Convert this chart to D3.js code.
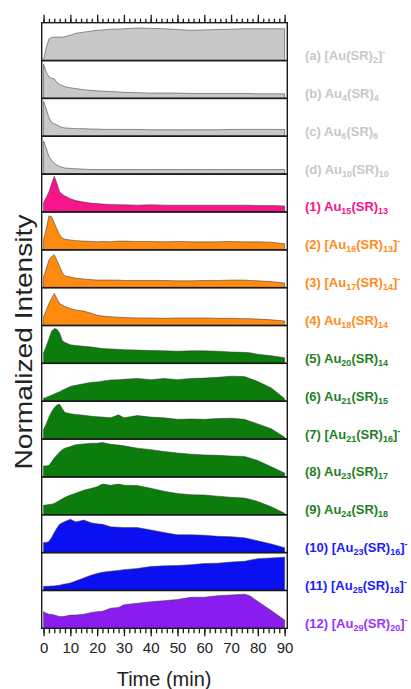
<!DOCTYPE html>
<html><head><meta charset="utf-8">
<script src="https://cdn.jsdelivr.net/npm/d3@7"></script>
<style>body{margin:0;background:#fff}svg{display:block}</style>
</head><body>
<svg id="chart" width="411" height="689"></svg>
<script>
// ---- data ----
const times = [0,1,2,3,4,5,6,7,8,10,12,15,18,20,22,25,28,30,35,40,45,50,55,60,65,70,75,77,80,85,90];
const valA  = [0.02,0.35,0.57,0.61,0.62,0.62,0.62,0.62,0.63,0.67,0.72,0.75,0.78,0.80,0.81,0.83,0.83,0.84,0.86,0.85,0.84,0.82,0.80,0.81,0.82,0.83,0.84,0.84,0.84,0.84,0.84];
const valB  = [0.90,0.70,0.57,0.53,0.52,0.42,0.37,0.34,0.31,0.28,0.26,0.23,0.21,0.20,0.19,0.18,0.17,0.16,0.15,0.14,0.14,0.14,0.13,0.13,0.13,0.13,0.13,0.13,0.12,0.12,0.12];
const valC  = [0.92,0.72,0.50,0.36,0.33,0.30,0.26,0.23,0.22,0.21,0.20,0.20,0.19,0.19,0.18,0.18,0.18,0.18,0.18,0.17,0.17,0.17,0.17,0.17,0.17,0.18,0.18,0.18,0.18,0.18,0.18];
const valD  = [0.88,0.68,0.47,0.36,0.29,0.24,0.20,0.18,0.16,0.15,0.14,0.13,0.12,0.12,0.12,0.12,0.12,0.12,0.12,0.12,0.12,0.12,0.12,0.12,0.12,0.12,0.12,0.12,0.12,0.12,0.12];
const val1  = [0.25,0.38,0.53,0.75,0.94,0.75,0.53,0.47,0.42,0.35,0.30,0.26,0.23,0.22,0.21,0.20,0.19,0.19,0.18,0.19,0.18,0.18,0.18,0.18,0.18,0.18,0.18,0.18,0.17,0.17,0.16];
const val2  = [0.27,0.55,0.90,0.87,0.71,0.55,0.40,0.31,0.28,0.26,0.24,0.23,0.22,0.21,0.22,0.21,0.23,0.23,0.22,0.22,0.21,0.22,0.21,0.21,0.21,0.22,0.21,0.21,0.21,0.20,0.16];
const val3  = [0.29,0.50,0.73,0.82,0.87,0.72,0.56,0.40,0.31,0.28,0.25,0.23,0.21,0.20,0.20,0.20,0.20,0.19,0.19,0.19,0.19,0.18,0.18,0.19,0.19,0.20,0.20,0.19,0.18,0.16,0.12];
const val4  = [0.23,0.40,0.58,0.72,0.85,0.70,0.58,0.54,0.50,0.45,0.41,0.38,0.32,0.27,0.25,0.23,0.22,0.21,0.20,0.20,0.19,0.20,0.20,0.20,0.19,0.19,0.18,0.18,0.17,0.15,0.12];
const val5  = [0.28,0.45,0.65,0.85,0.92,0.90,0.80,0.60,0.55,0.49,0.47,0.45,0.43,0.41,0.39,0.38,0.37,0.36,0.35,0.34,0.33,0.32,0.33,0.33,0.32,0.30,0.29,0.28,0.24,0.20,0.15];
const val6  = [0.08,0.10,0.13,0.16,0.19,0.22,0.25,0.29,0.32,0.39,0.42,0.46,0.50,0.51,0.53,0.56,0.57,0.58,0.60,0.57,0.60,0.57,0.60,0.61,0.63,0.66,0.65,0.60,0.52,0.35,0.07];
const val7  = [0.25,0.40,0.58,0.72,0.83,0.90,0.92,0.80,0.70,0.67,0.65,0.63,0.60,0.59,0.58,0.56,0.64,0.56,0.62,0.58,0.56,0.52,0.53,0.52,0.54,0.55,0.52,0.47,0.40,0.27,0.05];
const val8  = [0.29,0.29,0.30,0.40,0.50,0.58,0.66,0.72,0.76,0.80,0.85,0.87,0.89,0.89,0.91,0.86,0.84,0.82,0.76,0.72,0.67,0.63,0.60,0.58,0.57,0.55,0.54,0.50,0.43,0.27,0.10];
const val9  = [0.25,0.26,0.27,0.28,0.30,0.34,0.38,0.42,0.46,0.52,0.57,0.65,0.70,0.74,0.81,0.78,0.81,0.78,0.77,0.70,0.62,0.56,0.53,0.52,0.49,0.46,0.44,0.41,0.35,0.21,0.04];
const val10 = [0.27,0.27,0.29,0.40,0.53,0.65,0.75,0.79,0.82,0.88,0.81,0.86,0.78,0.76,0.75,0.68,0.67,0.66,0.66,0.60,0.53,0.47,0.47,0.46,0.43,0.42,0.39,0.36,0.31,0.23,0.13];
const val11 = [0.11,0.11,0.11,0.12,0.12,0.13,0.14,0.16,0.17,0.20,0.25,0.33,0.41,0.45,0.48,0.51,0.53,0.55,0.58,0.63,0.65,0.66,0.68,0.71,0.72,0.75,0.77,0.80,0.84,0.86,0.88];
const val12 = [0.44,0.40,0.37,0.37,0.35,0.33,0.31,0.31,0.32,0.35,0.35,0.37,0.42,0.44,0.45,0.53,0.55,0.62,0.66,0.70,0.73,0.76,0.82,0.82,0.86,0.88,0.90,0.86,0.71,0.47,0.22];

const seriesValues = [valA,valB,valC,valD,val1,val2,val3,val4,val5,val6,val7,val8,val9,val10,val11,val12];
const seriesLabels = [
  "(a) [Au(SR)_{2}]^{-}", "(b) Au_{4}(SR)_{4}", "(c) Au_{6}(SR)_{6}", "(d) Au_{10}(SR)_{10}",
  "(1) Au_{15}(SR)_{13}", "(2) [Au_{16}(SR)_{13}]^{-}", "(3) [Au_{17}(SR)_{14}]^{-}", "(4) Au_{18}(SR)_{14}",
  "(5) Au_{20}(SR)_{14}", "(6) Au_{21}(SR)_{15}", "(7) [Au_{21}(SR)_{16}]^{-}", "(8) Au_{23}(SR)_{17}",
  "(9) Au_{24}(SR)_{18}", "(10) [Au_{23}(SR)_{16}]^{-}", "(11) [Au_{25}(SR)_{18}]^{-}", "(12) [Au_{29}(SR)_{20}]^{-}"
];
const seriesGroups = ["gray","gray","gray","gray","pink","orange","orange","orange","green","green","green","green","green","blue","blue","purple"];
const xMajorTicks = [0,10,20,30,40,50,60,70,80,90];
const xMinorTicks = d3.range(0, 91, 2);

// ---- styles ----
const fillColor  = {gray:"#c8c8c8", pink:"#f7148b", orange:"#ff8a10", green:"#0c7c0c", blue:"#0b10f0", purple:"#8b1cf0"};
const labelColor = {gray:"#c8c8c8", pink:"#f7148b", orange:"#ff8c1a", green:"#1f7f1f", blue:"#1a1aff", purple:"#9933ff"};

const svg = d3.select("#chart");
const top0 = 22.7, bottom0 = 628.3;

const x = d3.scaleLinear().domain([-0.7, 91]).range([41.7, 287.3]);
const band = d3.scaleBand().domain(d3.range(seriesValues.length)).range([top0, bottom0]).paddingInner(0).paddingOuter(0);

seriesValues.forEach((vals, i) => {
  const y0 = band(i), h = band.bandwidth();
  const y = d3.scaleLinear().domain([0, 1]).range([y0 + h, y0]);
  const data = times.map((t, k) => ({t, v: vals[k]}));
  const area = d3.area().x(d => x(d.t)).y0(y(0)).y1(d => y(d.v));
  const g = svg.append("g");
  g.append("path").attr("d", area(data) + "Z")
    .attr("fill", fillColor[seriesGroups[i]])
    .attr("stroke", "#3a3a3a").attr("stroke-opacity", 0.6).attr("stroke-width", 0.9);
  g.append("rect").attr("x", x.range()[0]).attr("y", y0)
    .attr("width", x.range()[1] - x.range()[0]).attr("height", h)
    .attr("fill", "none").attr("stroke", "#1a1a1a").attr("stroke-width", 1.4);

  // label with sub/superscripts
  const txt = svg.append("text").attr("x", 305).attr("y", y0 + h - 0.5)
    .attr("font-family", "Arial, 'Liberation Sans', sans-serif").attr("font-weight", "bold")
    .attr("font-size", 13).attr("fill", labelColor[seriesGroups[i]]);
  const parts = seriesLabels[i].match(/_\{[^}]*\}|\^\{[^}]*\}|[^_^]+/g);
  let shift = 0;
  parts.forEach(p => {
    const ts = txt.append("tspan");
    if (p.startsWith("_{")) {
      ts.text(p.slice(2, -1)).attr("font-size", 9).attr("dy", 3 - shift); shift = 3;
    } else if (p.startsWith("^{")) {
      ts.text(p.slice(2, -1)).attr("font-size", 9).attr("dy", -5 - shift); shift = -5;
    } else {
      ts.text(p).attr("dy", -shift); shift = 0;
    }
  });
});

// top axis (ticks only)
const topMinor = svg.append("g").attr("transform", `translate(0,${top0})`)
  .call(d3.axisTop(x).tickValues(xMinorTicks).tickSize(4).tickFormat(""));
const topMajor = svg.append("g").attr("transform", `translate(0,${top0})`)
  .call(d3.axisTop(x).tickValues(xMajorTicks).tickSize(8).tickFormat(""));
// bottom axis
const botMinor = svg.append("g").attr("transform", `translate(0,${bottom0})`)
  .call(d3.axisBottom(x).tickValues(xMinorTicks).tickSize(5).tickFormat(""));
const botMajor = svg.append("g").attr("transform", `translate(0,${bottom0})`)
  .call(d3.axisBottom(x).tickValues(xMajorTicks).tickSize(8).tickPadding(6).tickFormat(d3.format("d")));
[topMinor, topMajor, botMinor, botMajor].forEach(a => {
  a.select(".domain").remove();
  a.selectAll(".tick line").attr("stroke", "#1a1a1a").attr("stroke-width", 1.3);
});
botMajor.selectAll(".tick text").attr("font-family", "Arial, 'Liberation Sans', sans-serif")
  .attr("font-size", 15).attr("fill", "#222");

// axis titles
svg.append("text").attr("x", (x(0) + x(90)) / 2).attr("y", 686)
  .attr("text-anchor", "middle").attr("font-family", "Arial, 'Liberation Sans', sans-serif")
  .attr("font-size", 20).attr("fill", "#222").text("Time (min)");
svg.append("text").attr("transform", "translate(32,342) rotate(-90)")
  .attr("text-anchor", "middle").attr("font-family", "Arial, 'Liberation Sans', sans-serif")
  .attr("font-size", 24).attr("fill", "#222")
  .attr("textLength", 255).attr("lengthAdjust", "spacingAndGlyphs")
  .text("Normalized Intensity");
</script>
</body></html>
